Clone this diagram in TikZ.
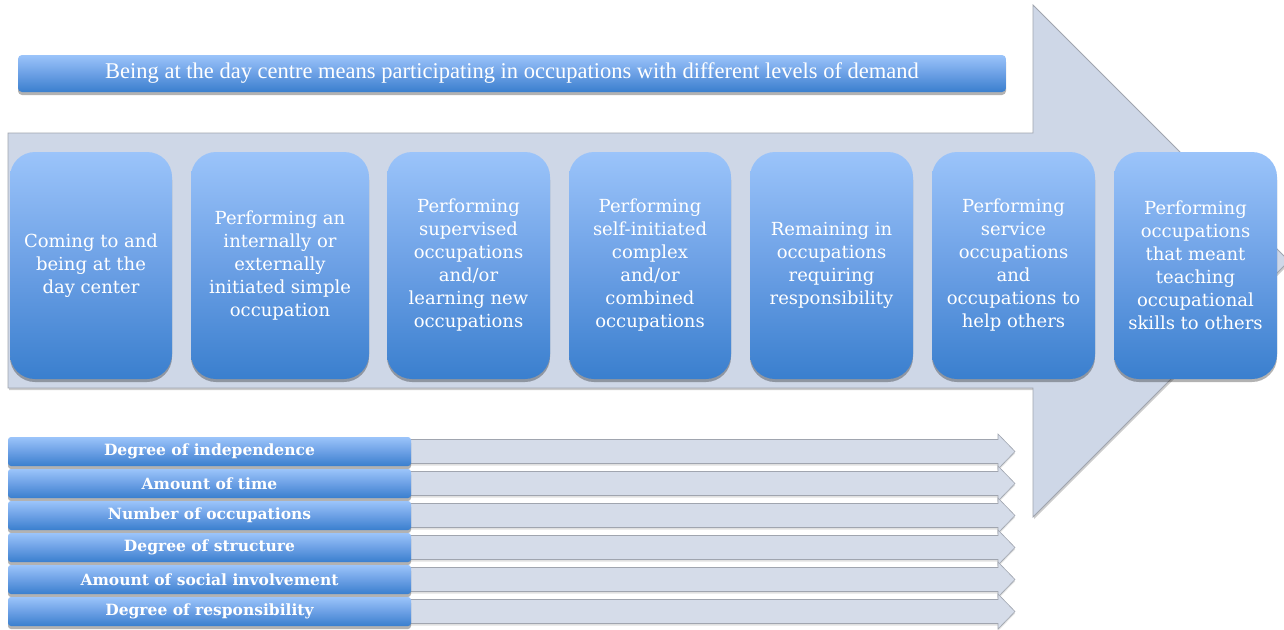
\documentclass[tikz,border=0pt]{standalone}
\usepackage{fontspec}
\setmainfont{DejaVu Serif}
\newfontfamily\libserif{Liberation Serif}
\usetikzlibrary{shadows}
\definecolor{boxtop}{RGB}{155,196,250}
\definecolor{boxmid}{RGB}{108,160,229}
\definecolor{boxbot}{RGB}{58,127,206}
\definecolor{arrowfill}{RGB}{206,215,231}
\definecolor{smallarrow}{RGB}{213,220,233}
\definecolor{edgegray}{RGB}{160,165,175}
\begin{document}
\begin{tikzpicture}[x=1pt,y=-1pt,
  softshadow/.style={drop shadow={shadow xshift=0pt, shadow yshift=-3pt, opacity=0.3, fill=black}},
  bluegrad/.style={top color=boxtop, bottom color=boxbot, middle color=boxmid, draw=none},
  stagebox/.style={bluegrad, softshadow, rounded corners=25pt, minimum height=227pt,
    inner sep=0pt, text=white, align=center, font=\fontsize{18}{23}\selectfont},
  labelbox/.style={bluegrad, softshadow, rounded corners=3pt, minimum width=403pt,
    minimum height=29pt, inner sep=0pt, text=white, font=\bfseries\fontsize{15.5}{18}\selectfont},
  bannerbox/.style={bluegrad, softshadow, rounded corners=4pt, minimum width=988pt,
    minimum height=37pt, inner sep=0pt, text=white, font=\libserif\fontsize{22.5}{26}\selectfont},
  bigarrow/.style={fill=arrowfill, draw=edgegray, line width=0.8pt,
    drop shadow={shadow xshift=1pt, shadow yshift=-2pt, opacity=0.2, fill=black}},
  smallarr/.style={fill=smallarrow, draw=edgegray, line width=0.6pt,
    drop shadow={shadow xshift=0pt, shadow yshift=-2pt, opacity=0.12, fill=black}}
]
\useasboundingbox (0,0) rectangle (1284,629);
\clip (0,0) rectangle (1284,629);
\fill[white] (0,0) rectangle (1284,629);

% big background arrow
\path[bigarrow] (8,133) -- (1033,133) -- (1033,5) -- (1289,261) -- (1033,517)
  -- (1033,388) -- (8,388) -- cycle;

% banner
\node[bannerbox] (banner) at (512,73.5)
  {Being at the day centre means participating in occupations with different levels of demand};

% stage boxes
\node[stagebox, minimum width=162pt] (s1) at (91,265.5)
  {Coming to and\\being at the\\day center};
\node[stagebox, minimum width=178pt] (s2) at (280,265.5)
  {Performing an\\internally or\\externally\\initiated simple\\occupation};
\node[stagebox, minimum width=163pt] (s3) at (468.5,265.5)
  {Performing\\supervised\\occupations\\and/or\\learning new\\occupations};
\node[stagebox, minimum width=162pt] (s4) at (650,265.5)
  {Performing\\self-initiated\\complex\\and/or\\combined\\occupations};
\node[stagebox, minimum width=163pt] (s5) at (831.5,265.5)
  {Remaining in\\occupations\\requiring\\responsibility};
\node[stagebox, minimum width=163pt] (s6) at (1013.5,265.5)
  {Performing\\service\\occupations\\and\\occupations to\\help others};
\node[stagebox, minimum width=163pt] (s7) at (1195.5,265.5)
  {Performing\\occupations\\that meant\\teaching\\occupational\\skills to others};

% small arrows behind the dimension labels
\foreach \i in {0,...,5}{
  \pgfmathsetmacro{\yc}{451.5+32*\i}
  \path[smallarr] (200,\yc-12) -- (998,\yc-12) -- (998,\yc-17.5) -- (1015,\yc)
    -- (998,\yc+17.5) -- (998,\yc+12) -- (200,\yc+12) -- cycle;
}

% dimension labels
\node[labelbox] (d1) at (209.5,451.5) {Degree of independence};
\node[labelbox] (d2) at (209.5,483.5) {Amount of time};
\node[labelbox] (d3) at (209.5,515.5) {Number of occupations};
\node[labelbox] (d4) at (209.5,547.5) {Degree of structure};
\node[labelbox] (d5) at (209.5,579.5) {Amount of social involvement};
\node[labelbox] (d6) at (209.5,611.5) {Degree of responsibility};
\end{tikzpicture}
\end{document}
